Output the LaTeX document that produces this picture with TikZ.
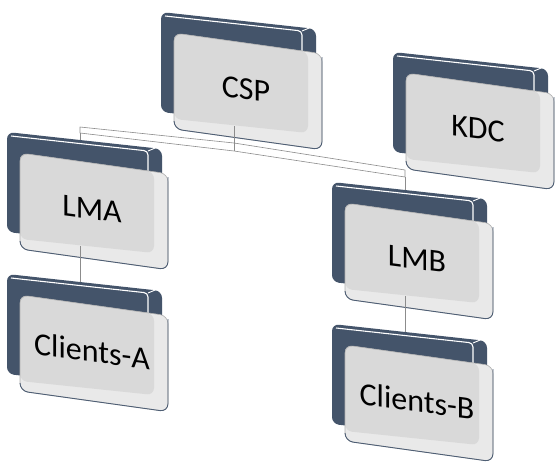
\documentclass[tikz,border=0pt]{standalone}
\usepackage{fontspec}
\setmainfont{Carlito}
\usetikzlibrary{calc}
\definecolor{slate}{HTML}{44546A}
\definecolor{facegray}{HTML}{D9D9D9}
\definecolor{sidegray}{HTML}{E9E9E9}
\definecolor{rimgray}{HTML}{B0B0B0}
\definecolor{rimdark}{HTML}{4F5F75}
\definecolor{linkgray}{HTML}{8C8C8C}
\tikzset{
  backslab/.style={fill=slate, rounded corners=7pt},
  bevel/.style={draw=white, line width=1.1pt, rounded corners=4pt},
  lightslab/.style={fill=sidegray, rounded corners=8pt},
  frontface/.style={fill=facegray, rounded corners=7pt},
  rimlight/.style={draw=rimgray, line width=0.6pt, rounded corners=8pt},
  rimshade/.style={draw=rimdark, line width=0.9pt, rounded corners=8pt},
  boxlabel/.style={transform shape, inner sep=0pt, font=\fontsize{32}{38}\selectfont, text=black},
  ribbon/.style={fill=white, draw=linkgray, line width=0.6pt, line join=round},
  stub/.style={draw=linkgray, line width=0.8pt}
}
% one block: dark back slab, light front slab, slanted label
% #1 name, #2 x, #3 y (top-left of the front slab), #4 label
\newcommand\drawunit[4]{%
  \begin{scope}[shift={(#2,#3)}]
    \path[backslab] (-13,-21) -- (142,-4) -- (142,96) -- (-13,79) -- cycle;
    \path[bevel] (-9,-17) -- (128,-2) -- (128,30);
    \draw[white, line width=0.9pt] (128,-2) -- (140,-7);
    \path[lightslab] (0,0) -- (148,20.7) -- (148,116.7) -- (0,96) -- cycle;
    \path[frontface] (0,0) -- (134,18.8) -- (134,100) -- (0,86) -- cycle;
    \path[rimlight] (0,0) -- (148,20.7) -- (148,116.7) -- (0,96) -- cycle;
    \path[rimshade] (148,24) -- (148,116.7) -- (0,96) -- (0,88);
    \coordinate (#1-n) at (60,-13);
    \coordinate (#1-s) at (60,93);
    \begin{scope}[shift={(72,56)}, yslant=-0.13]
      \node[boxlabel] (#1) at (0,0) {#4};
    \end{scope}
  \end{scope}%
}
\begin{document}
\begin{tikzpicture}[x=1pt, y=-1pt]
  \fill[white] (0,0) rectangle (555,463);
  \useasboundingbox (0,0) rectangle (555,463);

  % anchor points of the blocks, used to lay out the ribbon first
  \coordinate (lma-n) at (80,140);
  \coordinate (lmb-n) at (405,185);
  \coordinate (csp-s) at (234,126);

  % flat ribbon joining LMA and LMB
  \coordinate (bandLt) at ($(lma-n)+(0,-13)$);
  \coordinate (bandLb) at ($(lma-n)+(0,-7)$);
  \coordinate (bandMt) at ($(csp-s)+(0,17)$);
  \coordinate (bandMb) at ($(csp-s)+(0,25)$);
  \coordinate (bandRt) at ($(lmb-n)+(0,-15)$);
  \coordinate (bandRb) at ($(lmb-n)+(0,-8)$);
  \path[ribbon] (bandLt) -- (bandMt) -- (bandRt) -- (bandRb) -- (bandMb) -- (bandLb) -- cycle;

  \drawunit{csp}{174}{33}{CSP}
  \drawunit{kdc}{406}{73}{KDC}
  \drawunit{lma}{20}{153}{LMA}
  \drawunit{cla}{20}{295}{Clients-A}
  \drawunit{lmb}{345}{203}{LMB}
  \drawunit{clb}{345}{345}{Clients-B}

  % connectors
  \path[stub] (csp-s) -- (bandMb);
  \path[stub] (bandLb) -- (lma-n);
  \path[stub] (bandRb) -- (lmb-n);
  \path[stub] (lma-s) -- (cla-n);
  \path[stub] (lmb-s) -- (clb-n);
\end{tikzpicture}
\end{document}
